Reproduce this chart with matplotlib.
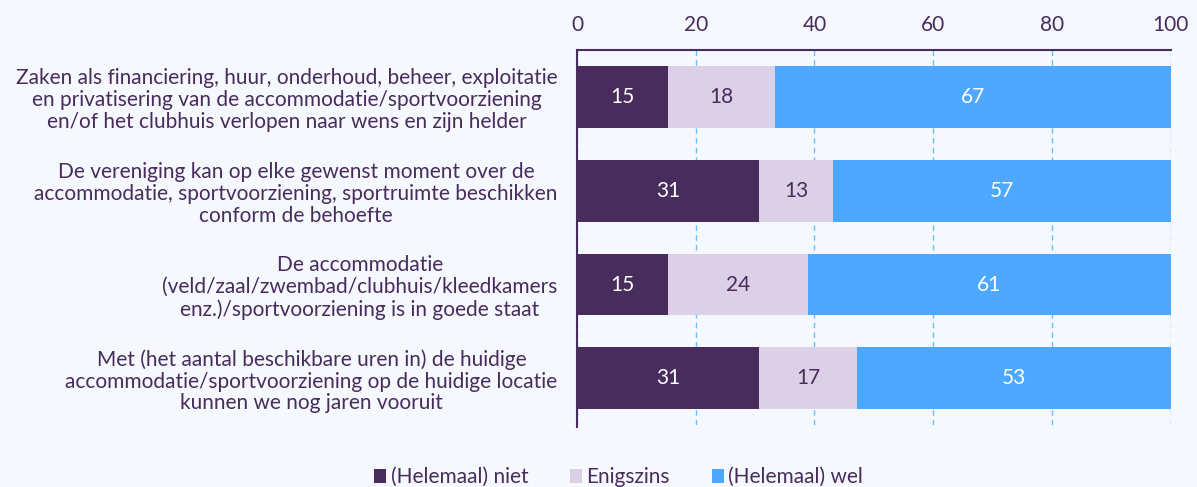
import numpy as np
import matplotlib.pyplot as plt

# ===== data =====
categories = [
    "Zaken als financiering, huur, onderhoud, beheer, exploitatie\nen privatisering van de accommodatie/sportvoorziening\nen/of het clubhuis verlopen naar wens en zijn helder",
    "De vereniging kan op elke gewenst moment over de\naccommodatie, sportvoorziening, sportruimte beschikken\nconform de behoefte",
    "De accommodatie\n(veld/zaal/zwembad/clubhuis/kleedkamers\nenz.)/sportvoorziening is in goede staat",
    "Met (het aantal beschikbare uren in) de huidige\naccommodatie/sportvoorziening op de huidige locatie\nkunnen we nog jaren vooruit",
]
series_names = ["(Helemaal) niet", "Enigszins", "(Helemaal) wel"]
niet = [15.4, 30.6, 15.3, 30.6]
enigszins = [18.0, 12.6, 23.6, 16.6]
wel = [66.6, 56.8, 61.1, 52.8]
xticks = [0, 20, 40, 60, 80, 100]

# ===== style =====
BG = "#F5F8FD"
TXT = "#472C5C"
colors = ["#472C5C", "#DCD0E6", "#4FA8FF"]
label_colors = ["white", TXT, "white"]
FS = 15

plt.rcParams["font.family"] = ["Lato", "DejaVu Sans"]

fig = plt.figure(figsize=(11.97, 4.87), dpi=100, facecolor=BG)
ax = fig.add_axes([0.482, 0.127, 0.496, 0.770], facecolor=BG)

y = np.arange(len(categories))
left = np.zeros(len(categories))
for vals, name, col, lc in zip([niet, enigszins, wel], series_names, colors, label_colors):
    vals = np.array(vals)
    bars = ax.barh(y, vals, left=left, height=0.66, color=col, label=name, zorder=3)
    for b, v in zip(bars, vals):
        ax.text(b.get_x() + b.get_width() / 2, b.get_y() + b.get_height() / 2,
                f"{v:.0f}", ha="center", va="center", color=lc, fontsize=FS, zorder=4)
    left += vals

ax.set_xlim(0, 100)
ax.set_ylim(3.5, -0.5)
ax.set_xticks(xticks)
ax.xaxis.tick_top()
ax.tick_params(axis="x", length=0, pad=11, labelsize=FS, labelcolor=TXT)
ax.set_yticks(y)
ax.set_yticklabels(categories)
ax.tick_params(axis="y", length=0, pad=14, labelsize=FS, labelcolor=TXT)
plt.setp(ax.get_yticklabels(), multialignment="center", linespacing=1.12)

ax.grid(axis="x", color="#66C2FF", linestyle=(0, (4, 3)), linewidth=1, zorder=0)
for s in ["right", "bottom"]:
    ax.spines[s].set_visible(False)
for s in ["top", "left"]:
    ax.spines[s].set_color(TXT)
    ax.spines[s].set_linewidth(1.5)
ax.spines["left"].set_bounds(-0.5, 3.52)

leg = ax.legend(loc="upper center", bbox_to_anchor=(0.07, -0.09), ncol=3, frameon=False,
                fontsize=FS, handlelength=0.6, handleheight=0.6, handletextpad=0.2,
                columnspacing=2.0, borderaxespad=0)
for t in leg.get_texts():
    t.set_color(TXT)

fig.savefig("out.png", dpi=100, facecolor=BG)
